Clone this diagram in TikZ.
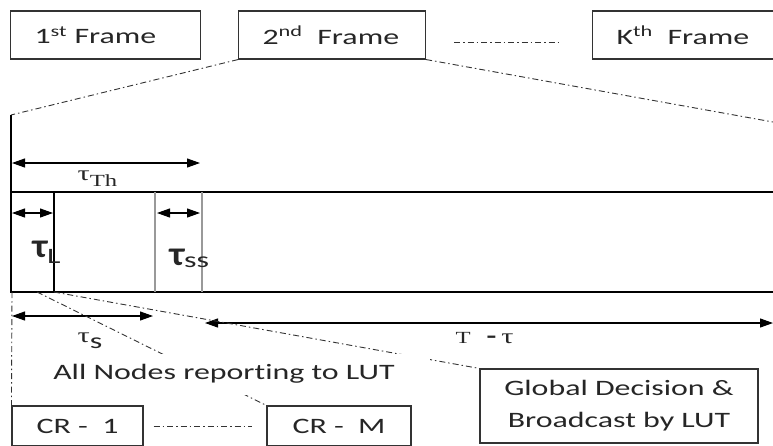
\documentclass[tikz,border=0pt]{standalone}
\usepackage{fontspec}
\setmainfont{Carlito}[FakeStretch=1.45, Ligatures=NoCommon]
\newfontfamily\serifwide{Liberation Serif}[FakeStretch=1.45]
\newfontfamily\taufont{Carlito}[FakeStretch=1.1]
\usetikzlibrary{arrows.meta}

\begin{document}
\begin{tikzpicture}[x=1pt,y=-1pt,>={Triangle[length=13pt,width=9pt]},line width=1.1pt,
    every node/.style={font=\fontsize{22}{26}\selectfont, text=black!85}]
    \tikzstyle{frame}=[draw=black!80, anchor=west, minimum height=48pt, inner xsep=24pt, align=left]
    \tikzstyle{crbox}=[draw=black!80, minimum height=40pt]
    \tikzstyle{dashdot}=[line width=0.9pt, black!80, dash pattern=on 6pt off 3pt on 1.5pt off 3pt]
    \useasboundingbox (0,0) rectangle (773,445);
    % frames on top
    \node[frame, text width=142pt] (fr1) at (10,35) {1\textsuperscript{st} Frame};
    \node[frame, text width=139pt] (fr2) at (238,35) {2\textsuperscript{nd}\ \ Frame};
    \node[frame, text width=170pt] (frK) at (592,35) {K\textsuperscript{th}\ \ Frame};
    \coordinate (tl) at (11,115);
    \coordinate (tr) at (773,122);
    \draw[dashdot] ([shift={(28,7)}]fr2.east) -- ([shift={(-32,7)}]frK.west);
    \draw[dashdot] (fr2.south west) -- (tl);
    \draw[dashdot] (fr2.south east) -- (tr);
    % time line of one frame
    \draw (tl) -- (11,292) -- (775,292);
    \draw (11,192) -- (775,192);
    \draw (54,192) -- (54,292);
    \draw[gray!80, line width=1.6pt] (155,192) -- (155,292) (202,192) -- (202,292);
    \coordinate (th1) at (12,163);
    \coordinate (th2) at (200,163);
    \coordinate (l1) at (12,213);
    \coordinate (l2) at (53,213);
    \coordinate (ss1) at (157,213);
    \coordinate (ss2) at (200,213);
    \coordinate (s0) at (12,316);
    \coordinate (s3) at (153,316);
    \coordinate (r1) at (205,323);
    \coordinate (r2) at (773,323);
    \draw[<->] (th1) -- (th2);
    \draw[<->] (l1) -- (l2);
    \draw[<->] (ss1) -- (ss2);
    \draw[<->] (s0) -- (s3);
    \draw[<->] (r1) -- (r2);
    \node[anchor=base west, inner sep=0] (tauTh) at (77,180) {\serifwide\fontsize{21}{21}\selectfont τ\raisebox{-6pt}{\fontsize{17}{17}\selectfont Th}};
    \node[anchor=base west, inner sep=0] (tauL) at (32,257) {{\taufont\bfseries\fontsize{34}{34}\selectfont τ}\raisebox{-6pt}{L}};
    \node[anchor=base west, inner sep=0] (tauSS) at (169,265) {{\taufont\bfseries\fontsize{34}{34}\selectfont τ}\raisebox{-2pt}{ss}};
    \node[anchor=base west, inner sep=0] (tauS) at (77,342) {{\serifwide\fontsize{21}{21}\selectfont τ}\raisebox{-6pt}{s}};
    \node[anchor=base west, inner sep=0] (Ttau) at (455,343) {{\serifwide\fontsize{17}{17}\selectfont T}\hspace{16pt}{\bfseries -}\hspace{5pt}{\serifwide\fontsize{21}{21}\selectfont τ}};
    % radios and LUT
    \node[crbox, minimum width=131pt] (cr1) at (77.5,426) {CR -\ \ 1};
    \node[crbox, minimum width=144pt] (crM) at (339,426) {CR -\ \ M};
    \node[crbox, minimum width=278pt, minimum height=74pt, align=center, font=\fontsize{22}{32}\selectfont] (glob) at (619,406) {Global Decision \&\\Broadcast by LUT};
    \coordinate (b1) at (12,292);
    \coordinate (d1) at (37,292);
    \coordinate (d2) at (54,292);
    \draw[dashdot] (b1) -- (cr1.north west);
    \draw[dashdot] ([xshift=10pt]cr1.east) -- ([xshift=-14pt]crM.west);
    \draw[dashdot] (d1) -- (crM.north west);
    \draw[dashdot] (d2) -- (glob.north west);
    \node[fill=white, minimum width=412pt, minimum height=41pt, inner sep=0] (lblAll) at (224,374) {All Nodes reporting to LUT};
\end{tikzpicture}
\end{document}
